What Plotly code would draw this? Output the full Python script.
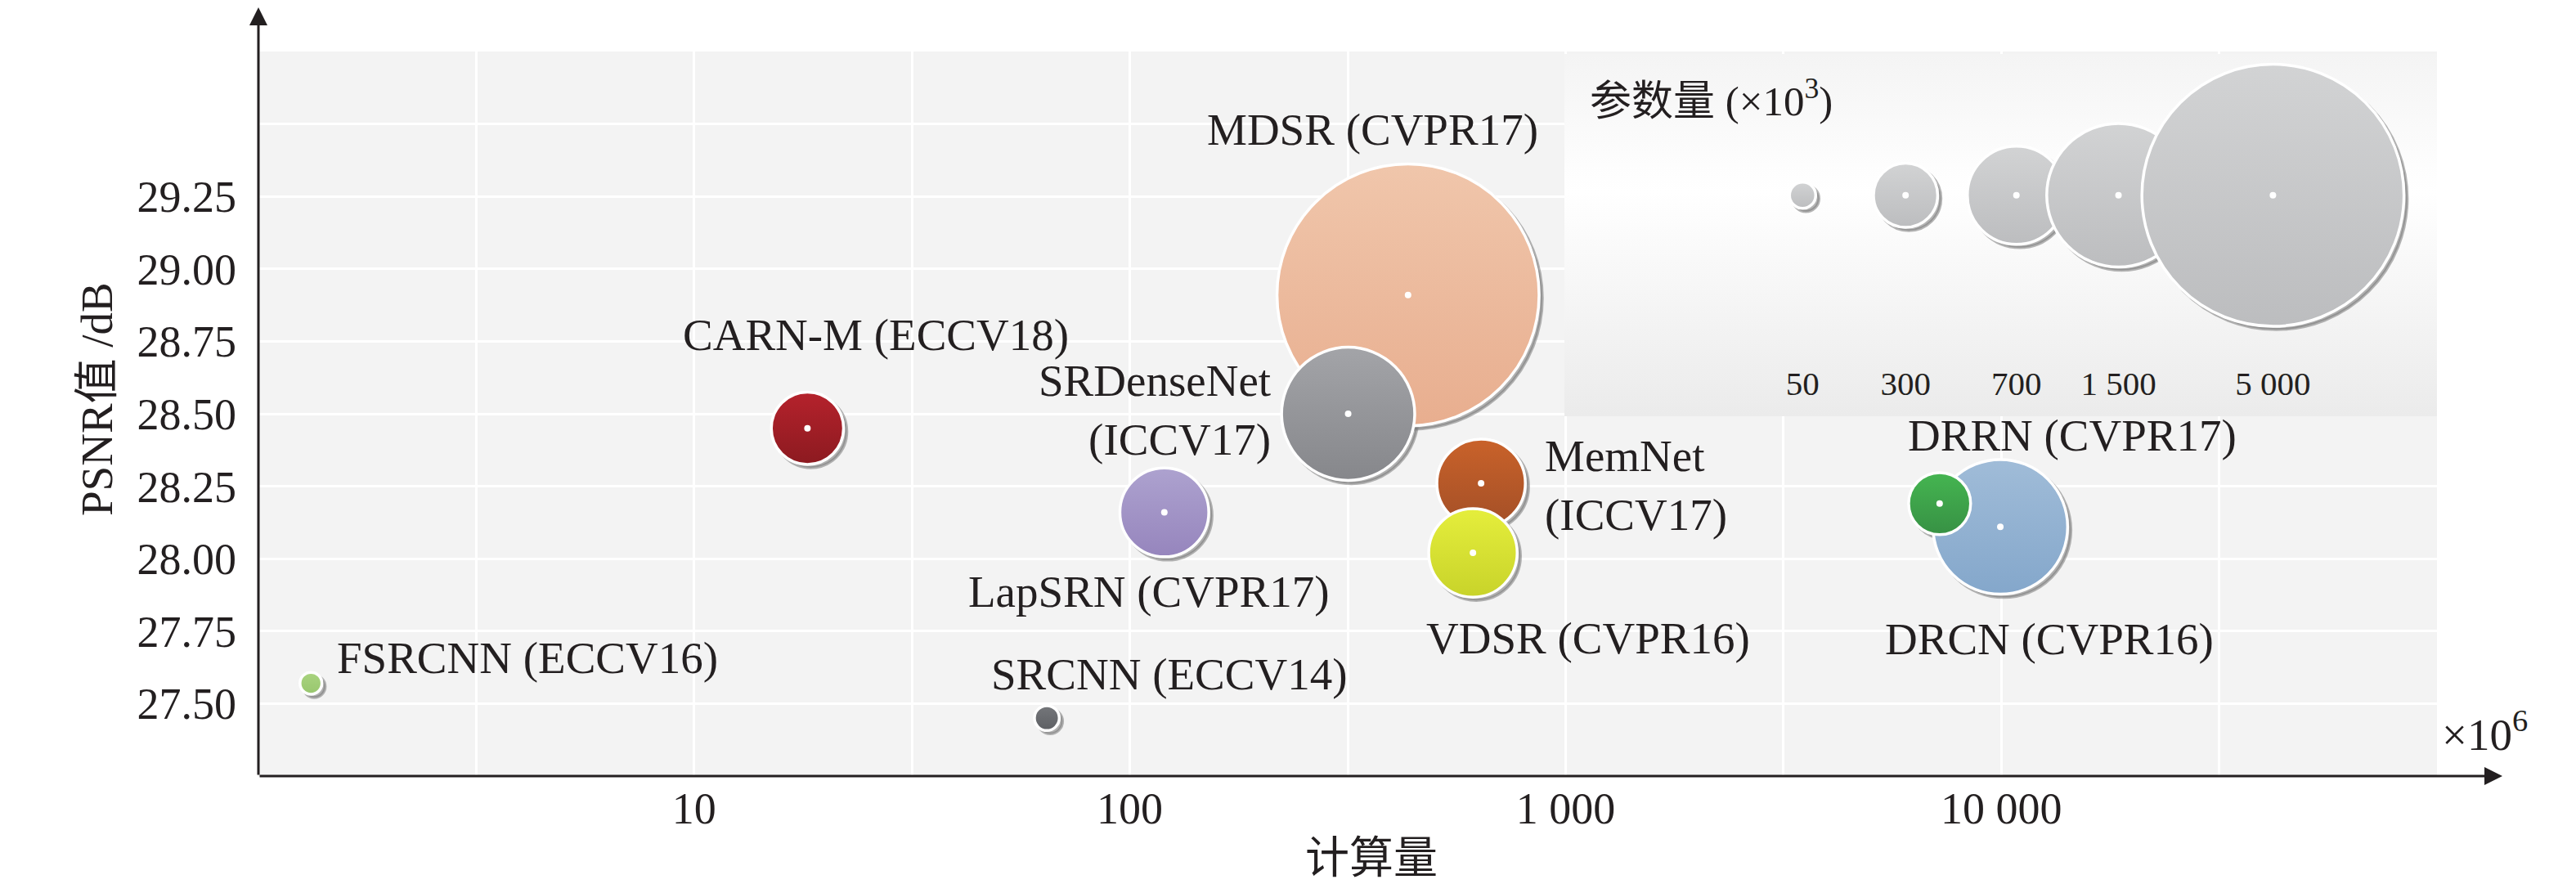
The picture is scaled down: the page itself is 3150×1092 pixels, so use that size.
import numpy as np
import plotly.graph_objects as go

# ---------------- data ----------------
models = ["FSRCNN (ECCV16)", "SRCNN (ECCV14)", "CARN-M (ECCV18)", "LapSRN (CVPR17)",
          "MDSR (CVPR17)", "SRDenseNet<br>(ICCV17)", "MemNet<br>(ICCV17)", "VDSR (CVPR16)",
          "DRCN (CVPR16)", "DRRN (CVPR17)"]
mult_adds = [1.32, 64.5, 18.2, 120, 435, 317, 640, 613, 9950, 7220]          # x10^6
psnr = [27.57, 27.45, 28.45, 28.16, 28.91, 28.50, 28.26, 28.02, 28.11, 28.19]  # dB
params_k = [35, 45, 380, 575, 5000, 1290, 570, 570, 1320, 280]               # x10^3
color_top = ["#a9d47f", "#75777b", "#b5222c", "#ada2cf", "#f0c6ab", "#a3a4a8",
             "#c9622a", "#e5ee3c", "#a0bcd8", "#45b551"]
color_bottom = ["#98c66e", "#5d5f63", "#8c1a20", "#9685bd", "#e8ae8f", "#86878b",
                "#a34f27", "#c8d32a", "#84a7cb", "#379144"]

legend_params = [50, 300, 700, 1500, 5000]
legend_labels = ["50", "300", "700", "1 500", "5 000"]
legend_title = "参数量 (×10<sup>3</sup>)"

x_tick_vals = [10 ** 0.5, 10, 10 ** 1.5, 100, 10 ** 2.5, 1000, 10 ** 3.5, 10000, 10 ** 4.5]
x_tick_text = ["", "10", "", "100", "", "1 000", "", "10 000", ""]
y_tick_vals = [27.5, 27.75, 28.0, 28.25, 28.5, 28.75, 29.0, 29.25, 29.5]
y_tick_text = ["27.50", "27.75", "28.00", "28.25", "28.50", "28.75", "29.00", "29.25", ""]

x_title = "计算量"
y_title = "PSNR值 /dB"
x_unit = "×10<sup>6</sup>"

# ---------------- layout constants ----------------
OFF = 8                      # default page body margin
PAGE_W, PAGE_H = 3150, 1092
W, H = PAGE_W - 2 * OFF, PAGE_H - 2 * OFF
P_L, P_R, P_T, P_B = 316, 2980, 63, 949      # plot area in page pixels
ML, MT = P_L - OFF, P_T - OFF
MR, MB = W - (P_R - OFF), H - (P_B - OFF)
PW, PH = P_R - P_L, P_B - P_T


def px(page_x):
    return (page_x - P_L) / PW


def py(page_y):
    return (P_B - page_y) / PH


XR = [0, 5]
YR = [27.25, 29.75]
PX_X = PW / (XR[1] - XR[0])
PX_Y = PH / (YR[1] - YR[0])
SH = 4  # shadow offset px

# label placement: (anchor, xshift px, yshift px)
label_pos = [("left", 30, 31), ("center", 149, 54), ("center", 84, 114), ("center", -19, -97),
             ("center", -43, 202), ("right", -93, 5), ("left", 76, -2), ("center", 141, -104),
             ("center", 60, -137), ("center", 162, 83)]

# legend inset (page pixels)
LG_L, LG_R, LG_T, LG_B = 1913, P_R, 66, 509
leg_dom_x = [px(LG_L), 1.0]
leg_dom_y = [py(LG_B), py(LG_T)]
LXR = [0, 10]
LYR = [0, 1]
LPX_X = (LG_R - LG_L) / (LXR[1] - LXR[0])
LPX_Y = (LG_B - LG_T) / (LYR[1] - LYR[0])
legend_pos = [2.73, 3.91, 5.18, 6.35, 8.12]
legend_y = 0.61
legend_label_y = 0.081

K = 2.266  # radius px per sqrt(param)
SIZEREF = 2.0 / (2 * K) ** 2
FONT = "Liberation Serif, Times New Roman, Noto Sans CJK SC"
TXT = "#231f20"
SHADOW = "rgba(120,120,120,0.55)"

fig = go.Figure()

# invisible trace so that the main (grid) subplot is built
fig.add_trace(go.Scatter(x=mult_adds, y=psnr, mode="markers", xaxis="x", yaxis="y",
                         hoverinfo="skip", marker=dict(size=1, opacity=0)))
# main shadow (axes x2/y2, shifted range)
fig.add_trace(go.Scatter(
    x=mult_adds, y=psnr, mode="markers", xaxis="x2", yaxis="y2", hoverinfo="skip",
    marker=dict(size=params_k, sizemode="area", sizeref=SIZEREF, opacity=1,
                color=SHADOW, line=dict(color=SHADOW, width=3.5)),
))
# main bubbles (axes x3/y3)
fig.add_trace(go.Scatter(
    x=mult_adds, y=psnr, mode="markers", xaxis="x3", yaxis="y3", hoverinfo="skip",
    marker=dict(size=params_k, sizemode="area", sizeref=SIZEREF, color=color_top, opacity=1,
                gradient=dict(type="vertical", color=color_bottom),
                line=dict(color="white", width=3.5)),
))
dot_idx = [i for i, p in enumerate(params_k) if p > 100]
fig.add_trace(go.Scatter(
    x=[mult_adds[i] for i in dot_idx], y=[psnr[i] for i in dot_idx], mode="markers",
    xaxis="x3", yaxis="y3", hoverinfo="skip",
    marker=dict(size=8, color="white", opacity=1, line=dict(width=0)),
))

# legend box with gradient (axes x4/y4)
fig.add_trace(go.Scatter(
    x=[LXR[0], LXR[1], LXR[1], LXR[0], LXR[0]], y=[LYR[0], LYR[0], LYR[1], LYR[1], LYR[0]],
    mode="lines", fill="toself", line=dict(width=0), xaxis="x4", yaxis="y4", hoverinfo="skip",
    fillgradient=dict(type="vertical",
                      colorscale=[[0, "#ebebeb"], [0.62, "#ffffff"], [1, "#f4f4f4"]]),
))
# legend shadows (x5/y5)
fig.add_trace(go.Scatter(
    x=legend_pos, y=[legend_y] * len(legend_pos), mode="markers", xaxis="x5", yaxis="y5",
    hoverinfo="skip",
    marker=dict(size=legend_params, sizemode="area", sizeref=SIZEREF, opacity=1,
                color=SHADOW, line=dict(color=SHADOW, width=3.5)),
))
# legend bubbles (x6/y6)
fig.add_trace(go.Scatter(
    x=legend_pos, y=[legend_y] * len(legend_pos), mode="markers", xaxis="x6", yaxis="y6",
    hoverinfo="skip",
    marker=dict(size=legend_params, sizemode="area", sizeref=SIZEREF, color="#d2d3d4", opacity=1,
                gradient=dict(type="vertical", color="#bcbdbf"),
                line=dict(color="white", width=3.5)),
))
ldot = [i for i, p in enumerate(legend_params) if p > 100]
fig.add_trace(go.Scatter(
    x=[legend_pos[i] for i in ldot], y=[legend_y] * len(ldot), mode="markers",
    xaxis="x6", yaxis="y6", hoverinfo="skip",
    marker=dict(size=8, color="white", opacity=1, line=dict(width=0)),
))
fig.add_trace(go.Scatter(
    x=legend_pos, y=[legend_label_y] * len(legend_pos), mode="text", text=legend_labels,
    textfont=dict(family=FONT, size=41, color=TXT), xaxis="x6", yaxis="y6", hoverinfo="skip",
))

hidden = dict(visible=False, fixedrange=True, showgrid=False, zeroline=False)
layout = dict(
    width=W, height=H, margin=dict(l=ML, r=MR, t=MT, b=MB, autoexpand=False),
    paper_bgcolor="white", plot_bgcolor="rgba(0,0,0,0)", showlegend=False,
    font=dict(family=FONT, size=54, color=TXT),
    xaxis=dict(type="log", range=XR, domain=[0, 1], tickmode="array", tickvals=x_tick_vals,
               ticktext=x_tick_text, showgrid=True, gridcolor="white", gridwidth=3,
               zeroline=False, showline=False, ticks="", ticklabelstandoff=3,
               tickfont=dict(size=54, family=FONT, color=TXT), fixedrange=True),
    yaxis=dict(range=YR, domain=[0, 1], tickmode="array", tickvals=y_tick_vals,
               ticktext=y_tick_text, showgrid=True, gridcolor="white", gridwidth=3,
               zeroline=False, showline=False, ticks="", ticklabelstandoff=26,
               tickfont=dict(size=54, family=FONT, color=TXT), fixedrange=True),
    xaxis2=dict(type="log", range=[XR[0] - SH / PX_X, XR[1] - SH / PX_X], domain=[0, 1],
                anchor="y2", **hidden),
    yaxis2=dict(range=[YR[0] + SH / PX_Y, YR[1] + SH / PX_Y], domain=[0, 1], anchor="x2", **hidden),
    xaxis3=dict(type="log", range=XR, domain=[0, 1], anchor="y3", **hidden),
    yaxis3=dict(range=YR, domain=[0, 1], anchor="x3", **hidden),
    xaxis4=dict(range=LXR, domain=leg_dom_x, anchor="y4", **hidden),
    yaxis4=dict(range=LYR, domain=leg_dom_y, anchor="x4", **hidden),
    xaxis5=dict(range=[LXR[0] - SH / LPX_X, LXR[1] - SH / LPX_X], domain=leg_dom_x, anchor="y5", **hidden),
    yaxis5=dict(range=[LYR[0] + SH / LPX_Y, LYR[1] + SH / LPX_Y], domain=leg_dom_y, anchor="x5", **hidden),
    xaxis6=dict(range=LXR, domain=leg_dom_x, anchor="y6", **hidden),
    yaxis6=dict(range=LYR, domain=leg_dom_y, anchor="x6", **hidden),
)
fig.update_layout(**layout)

# plot background
fig.add_shape(type="rect", xref="paper", yref="paper", x0=0, x1=1, y0=0, y1=1,
              fillcolor="#f3f3f3", line=dict(width=0), layer="below")

ann = []
# bubble labels
for name, xv, yv, (anc, dx, dy) in zip(models, mult_adds, psnr, label_pos):
    ann.append(dict(text=name, x=np.log10(xv), y=yv, xref="x3", yref="y3", showarrow=False,
                    xanchor=anc, yanchor="middle", xshift=dx, yshift=dy, align=anc,
                    font=dict(family=FONT, size=55, color=TXT)))
# legend title
ann.append(dict(text=legend_title, xref="x6", yref="y6", x=(1942 - LG_L) / LPX_X, y=0.878,
                xanchor="left", yanchor="middle", showarrow=False,
                font=dict(family=FONT, size=51, color=TXT)))
# axis titles
ann.append(dict(text=y_title, xref="paper", yref="paper", x=px(118), y=py(488),
                textangle=-90, showarrow=False, xanchor="center", yanchor="middle",
                font=dict(family=FONT, size=55, color=TXT)))
ann.append(dict(text=x_title, xref="paper", yref="paper", x=px(1677), y=py(1050),
                showarrow=False, xanchor="center", yanchor="middle",
                font=dict(family=FONT, size=54, color=TXT)))
ann.append(dict(text=x_unit, xref="paper", yref="paper", x=px(3038), y=py(894),
                showarrow=False, xanchor="center", yanchor="middle",
                font=dict(family=FONT, size=55, color=TXT)))
# axis arrows
AW, AS = 3, 22 / (5 * 3)
ann.append(dict(text="", xref="paper", yref="paper", x=px(3060), y=0,
                ax=-(3060 - P_L), ay=0, showarrow=True, arrowhead=2,
                arrowwidth=AW, arrowsize=AS, arrowcolor=TXT))
ann.append(dict(text="", xref="paper", yref="paper", x=0, y=py(6),
                ax=0, ay=P_B - 6, showarrow=True, arrowhead=2,
                arrowwidth=AW, arrowsize=AS, arrowcolor=TXT))
fig.update_layout(annotations=ann)

fig.write_html("out.html")
